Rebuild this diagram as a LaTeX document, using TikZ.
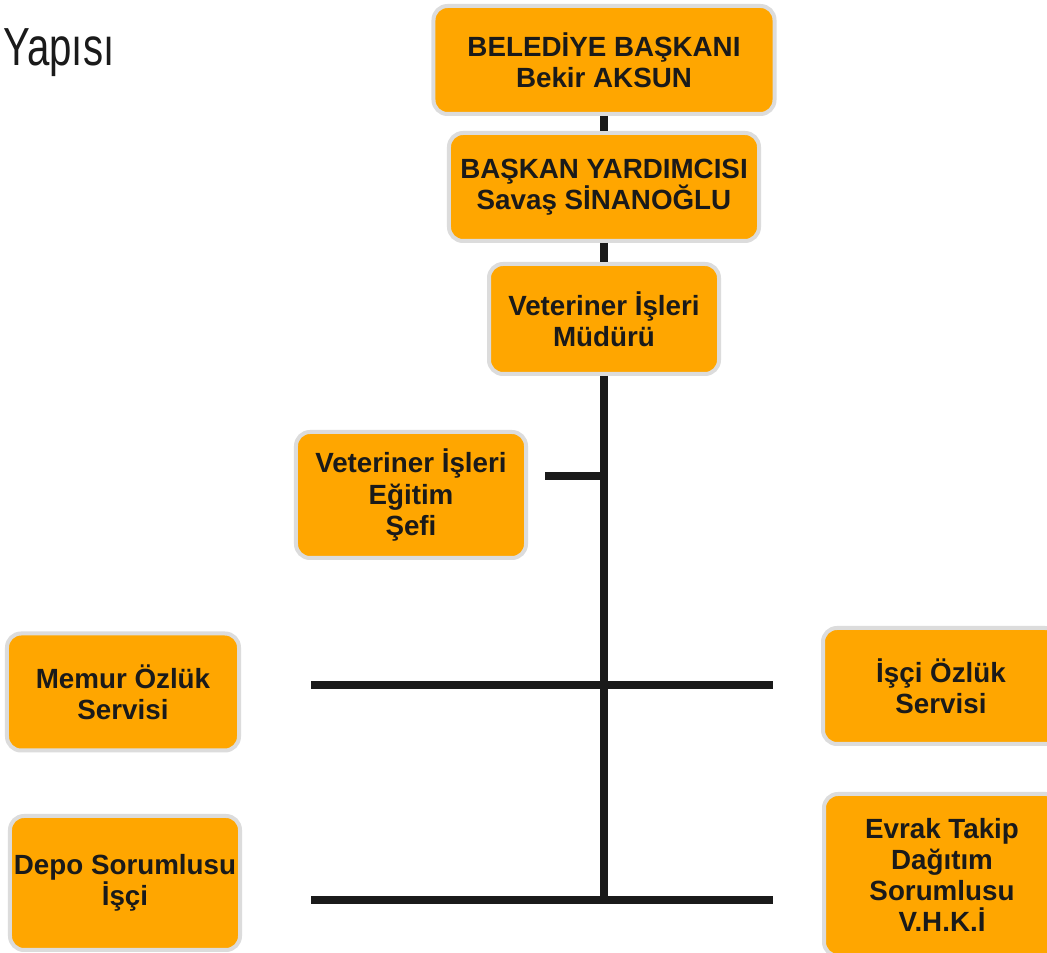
\documentclass[tikz,border=0pt]{standalone}
\usepackage{fontspec}
\setmainfont{Liberation Sans}
\newfontfamily\titlefont[FakeStretch=0.75]{Liberation Sans}

\definecolor{kutu}{HTML}{FFA600}
\definecolor{kenar}{HTML}{DCDCDC}
\definecolor{cizgi}{HTML}{1A1A1A}

\begin{document}
\begin{tikzpicture}[x=0.2mm,y=-0.2mm]
  \tikzset{birim/.style={draw=kenar,line width=0.8mm,fill=kutu,rounded corners=2.8mm,
      align=center,text=cizgi,inner sep=2pt,
      font=\fontsize{15.8}{17.8}\selectfont\bfseries},
    hat/.style={draw=cizgi,line width=1.6mm}}
  \clip (0,0) rectangle (1047,953);
  \fill[white] (0,0) rectangle (1047,953);
  \node[anchor=base west,inner sep=0,text=cizgi,font=\titlefont\fontsize{30.5}{36}\selectfont] (baslik) at (3,66) {Yapısı};
  \node[birim,minimum width=68.2mm,minimum height=21.6mm] (baskan) at (604,60)  {BELEDİYE BAŞKANI\\Bekir AKSUN};
  \node[birim,minimum width=62.0mm,minimum height=21.6mm] (yard)   at (604,187) {BAŞKAN YARDIMCISI\\Savaş SİNANOĞLU};
  \node[birim,minimum width=46.0mm,minimum height=22.0mm] (mudur)  at (604,319) {Veteriner İşleri\\Müdürü};
  \node[birim,minimum width=46.0mm,minimum height=25.2mm] (sef)    at (411,495) {Veteriner İşleri\\Eğitim\\Şefi};
  \node[birim,minimum width=46.4mm,minimum height=23.4mm] (memur)  at (123,692) {Memur Özlük\\Servisi};
  \node[birim,minimum width=47.2mm,minimum height=23.2mm] (iscioz) at (941,686) {İşçi Özlük\\Servisi};
  \node[birim,minimum width=46.0mm,minimum height=26.8mm] (depo)   at (125,883) {Depo Sorumlusu\\İşçi};
  \node[birim,minimum width=47.2mm,minimum height=32.4mm] (evrak)  at (942,875) {Evrak Takip\\Dağıtım\\Sorumlusu\\V.H.K.İ};
  % hat ucları
  \coordinate (t4) at (604,476);
  \coordinate (s4) at (545,476);
  \coordinate (t7) at (604,900);
  \coordinate (l5) at (311,685);
  \coordinate (r5) at (773,685);
  \coordinate (l7) at (311,900);
  \coordinate (r7) at (773,900);
  \draw[hat] (baskan.south) -- (yard.north);
  \draw[hat] (yard.south) -- (mudur.north);
  \draw[hat] (mudur.south) -- (t7);
  \draw[hat] (s4) -- (t4);
  \draw[hat] (l5) -- (r5);
  \draw[hat] (l7) -- (r7);
\end{tikzpicture}
\end{document}
